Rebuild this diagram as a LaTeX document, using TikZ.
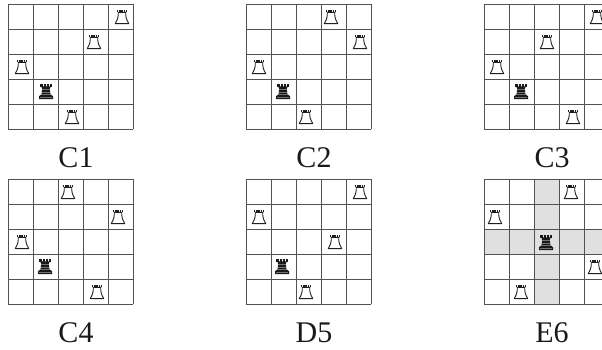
\documentclass[tikz,border=0pt]{standalone}
\usepackage{fontspec}
\setmainfont{Liberation Serif}
\tikzset{
  x=1pt,y=-1pt,
  gridline/.style={draw=black!68,line width=1pt},
  shade cell/.style={fill=black!12,draw=none},
  boardlabel/.style={font=\fontsize{30}{30}\selectfont,anchor=base,inner sep=0pt,text=black!90},
  pics/whiterook/.style={code={
    \draw[black!88,line width=0.9pt,fill=white,line join=round]
      (-3.8,-4.6) .. controls (-3.4,-1) and (-4.4,3) .. (-6.8,6.6) -- (6.8,6.6) .. controls (4.4,3) and (3.4,-1) .. (3.8,-4.6) -- cycle;
    \draw[black!88,line width=2.2pt,dash pattern=on 1.6pt off 0.7pt] (-5.2,-6) -- (5.2,-6);
  }},
  pics/blackrook/.style={code={
    \fill[black!90] (-4.8,-4.6) -- (-3.8,-2.5) -- (-4.4,3) -- (-7,5.4) -- (-7,8) -- (7,8) -- (7,5.4) -- (4.4,3) -- (3.8,-2.5) -- (4.8,-4.6) -- cycle;
    \draw[black!90,line width=3pt,dash pattern=on 2.3pt off 0.8pt] (-5.6,-6) -- (5.6,-6);
    \draw[black!55,line width=0.3pt] (-3.8,-1.5) -- (3.8,-1.5) (-4,1) -- (4,1) (-5,3.5) -- (5,3.5) (-6,6) -- (6,6);
  }},
}
\newcommand{\boardgrid}[2]{%
  \foreach \i in {0,...,5} {
    \draw[gridline] (#1+25*\i,#2) -- (#1+25*\i,#2+125);
    \draw[gridline] (#1,#2+25*\i) -- (#1+125,#2+25*\i);
  }}
\begin{document}
\begin{tikzpicture}
\useasboundingbox (0,0) rectangle (602,349);
\clip (0,0) rectangle (602,349);
% shaded cross of E6
\fill[shade cell] (533.5,179) rectangle (558.5,304);
\fill[shade cell] (483.5,229) rectangle (608.5,254);
% grids
\boardgrid{8}{4}
\boardgrid{246}{4}
\boardgrid{484}{4}
\boardgrid{8}{179}
\boardgrid{246}{179}
\boardgrid{484}{179}
% C1
\pic at (122,17) {whiterook};
\pic at (94,42) {whiterook};
\pic at (22,67) {whiterook};
\pic at (46,91) {blackrook};
\pic at (72,117) {whiterook};
% C2
\pic at (331,17) {whiterook};
\pic at (360,42) {whiterook};
\pic at (259,67) {whiterook};
\pic at (283,91) {blackrook};
\pic at (306,117) {whiterook};
% C3
\pic at (597,17) {whiterook};
\pic at (547,42) {whiterook};
\pic at (497,67) {whiterook};
\pic at (521,91) {blackrook};
\pic at (573,117) {whiterook};
% C4
\pic at (68,192) {whiterook};
\pic at (118,217) {whiterook};
\pic at (22,242) {whiterook};
\pic at (45,266) {blackrook};
\pic at (97,292) {whiterook};
% D5
\pic at (360,192) {whiterook};
\pic at (259,217) {whiterook};
\pic at (335,242) {whiterook};
\pic at (282,266) {blackrook};
\pic at (306,292) {whiterook};
% E6
\pic at (571,192) {whiterook};
\pic at (495,217) {whiterook};
\pic at (546,242) {blackrook};
\pic at (595,267) {whiterook};
\pic at (521,292) {whiterook};
% labels
\node[boardlabel] (c1) at (76,167) {C1};
\node[boardlabel] (c2) at (314,167) {C2};
\node[boardlabel] (c3) at (552,167) {C3};
\node[boardlabel] (c4) at (76,342) {C4};
\node[boardlabel] (d5) at (314,342) {D5};
\node[boardlabel] (e6) at (552,342) {E6};
\end{tikzpicture}
\end{document}
